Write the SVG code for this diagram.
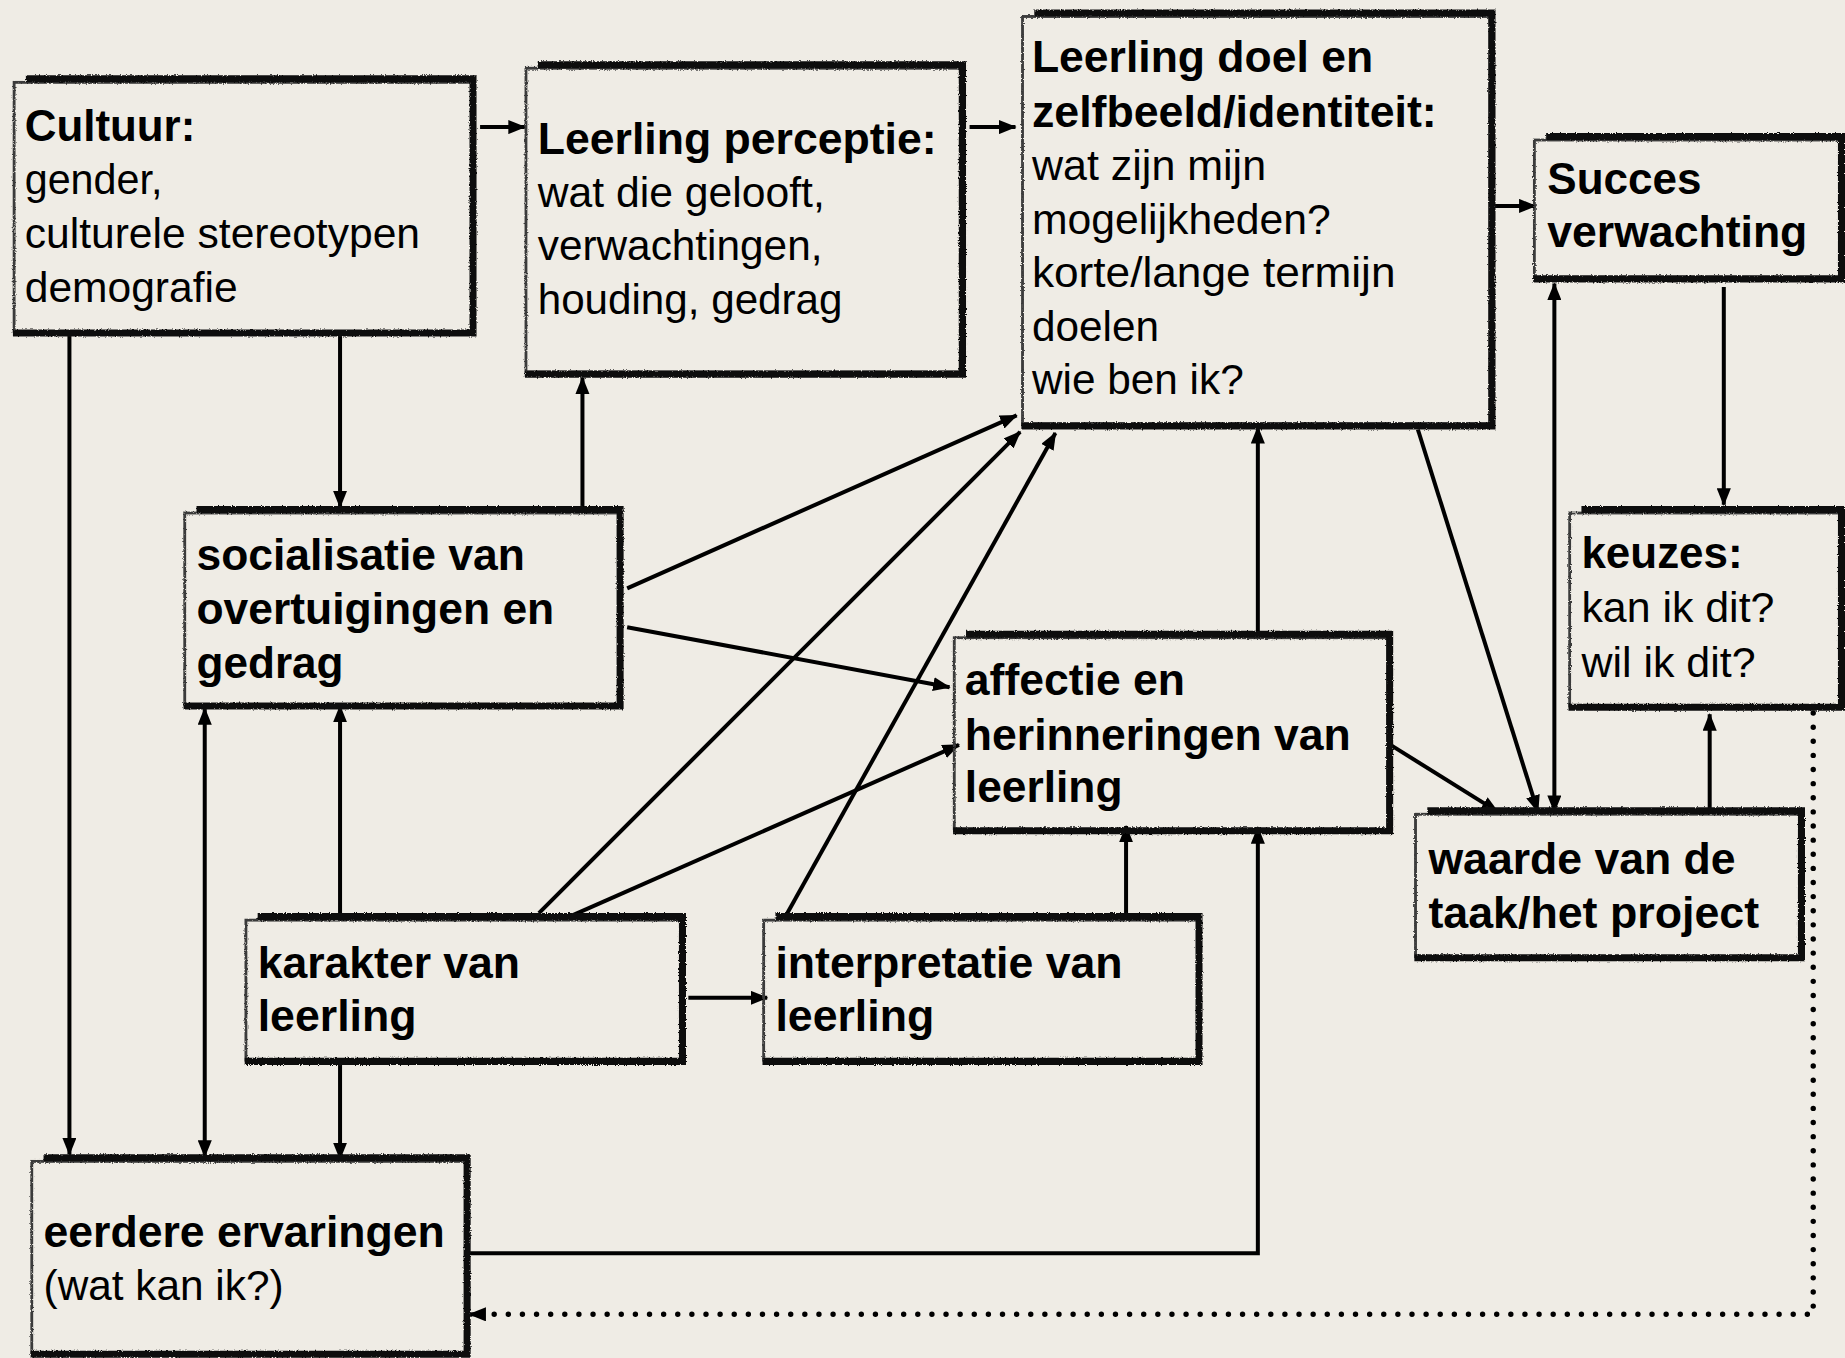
<svg xmlns="http://www.w3.org/2000/svg" width="1845" height="1358" viewBox="0 0 1845 1358">
<style>
.bg{fill:#EFECE5}
.thin{fill:none;stroke:#3a3a3a;stroke-width:2.4;filter:url(#rough)}
.thick{fill:none;stroke:#111;stroke-width:6;stroke-linejoin:miter;filter:url(#rough)}
.b{font-family:"Liberation Sans",Arial,sans-serif;font-weight:bold;font-size:37px;fill:#000}
.r{font-family:"Liberation Sans",Arial,sans-serif;font-size:36px;fill:#000}
.conn line,.conn path{fill:none;stroke:#000;stroke-width:3.4}
.conn path.dot{fill:none;stroke:#000;stroke-width:4.6;stroke-linecap:round;stroke-dasharray:0 12}
</style>
<defs>
<filter id="rough" x="-5%" y="-5%" width="110%" height="110%">
<feTurbulence type="fractalNoise" baseFrequency="0.9" numOctaves="2" seed="3" result="n"/>
<feDisplacementMap in="SourceGraphic" in2="n" scale="2.5" xChannelSelector="R" yChannelSelector="G"/>
</filter>
<marker id="ah" markerUnits="userSpaceOnUse" markerWidth="15" markerHeight="12" refX="14" refY="6" orient="auto-start-reverse" viewBox="0 0 15 12">
<path d="M0,0 L15,6 L0,12 z" fill="#000"/>
</marker>
</defs>
<rect class="bg" x="0" y="0" width="1845" height="1358"/>
<g transform="scale(1.17666)">

<g id="connectors" class="conn">
<line x1="408" y1="108" x2="446" y2="108" marker-end="url(#ah)"/>
<line x1="824" y1="108" x2="863" y2="108" marker-end="url(#ah)"/>
<line x1="1270" y1="175" x2="1305" y2="175" marker-end="url(#ah)"/>
<line x1="1465" y1="244" x2="1465" y2="429" marker-end="url(#ah)"/>
<line x1="1321" y1="241" x2="1321" y2="690" marker-start="url(#ah)" marker-end="url(#ah)"/>
<line x1="1453" y1="688" x2="1453" y2="607" marker-end="url(#ah)"/>
<line x1="1205" y1="365" x2="1307" y2="690" marker-end="url(#ah)"/>
<line x1="1180" y1="632" x2="1273" y2="690" marker-end="url(#ah)"/>
<line x1="289" y1="285" x2="289" y2="431" marker-end="url(#ah)"/>
<line x1="59" y1="285" x2="59" y2="981" marker-end="url(#ah)"/>
<line x1="495" y1="433" x2="495" y2="321" marker-end="url(#ah)"/>
<line x1="533" y1="500" x2="864" y2="353" marker-end="url(#ah)"/>
<line x1="533" y1="533" x2="807" y2="584" marker-end="url(#ah)"/>
<line x1="289" y1="778" x2="289" y2="600" marker-end="url(#ah)"/>
<line x1="458" y1="776" x2="867" y2="367" marker-end="url(#ah)"/>
<line x1="484" y1="779" x2="815" y2="633" marker-end="url(#ah)"/>
<line x1="585" y1="848" x2="652" y2="848" marker-end="url(#ah)"/>
<line x1="289" y1="905" x2="289" y2="985" marker-end="url(#ah)"/>
<line x1="174" y1="602" x2="174" y2="983" marker-start="url(#ah)" marker-end="url(#ah)"/>
<line x1="668" y1="778" x2="897" y2="368" marker-end="url(#ah)"/>
<line x1="957" y1="778" x2="957" y2="702" marker-end="url(#ah)"/>
<path d="M399,1065 H1069 V703" marker-end="url(#ah)"/>
<line x1="1069" y1="543" x2="1069" y2="363" marker-end="url(#ah)"/>
<path class="dot" d="M1541,606 V1117 H414"/>
<line x1="412" y1="1117" x2="399" y2="1117" marker-end="url(#ah)"/>
</g>

<g id="cultuur">
<rect class="thin" x="12" y="70" width="389" height="212"/>
<path class="thick" d="M22,67 H402 V283 H11"/>
<text class="b" x="21" y="120" textLength="145" lengthAdjust="spacingAndGlyphs">Cultuur:</text>
<text class="r" x="21" y="165" textLength="117" lengthAdjust="spacingAndGlyphs">gender,</text>
<text class="r" x="21" y="211" textLength="336" lengthAdjust="spacingAndGlyphs">culturele stereotypen</text>
<text class="r" x="21" y="257" textLength="181" lengthAdjust="spacingAndGlyphs">demografie</text>
</g>

<g id="perceptie">
<rect class="thin" x="447" y="58" width="369" height="258"/>
<path class="thick" d="M457,55 H818 V318 H446"/>
<text class="b" x="457" y="131" textLength="339" lengthAdjust="spacingAndGlyphs">Leerling perceptie:</text>
<text class="r" x="457" y="176" textLength="244" lengthAdjust="spacingAndGlyphs">wat die gelooft,</text>
<text class="r" x="457" y="221" textLength="242" lengthAdjust="spacingAndGlyphs">verwachtingen,</text>
<text class="r" x="457" y="267" textLength="259" lengthAdjust="spacingAndGlyphs">houding, gedrag</text>
</g>

<g id="doel">
<rect class="thin" x="869" y="14" width="397" height="346"/>
<path class="thick" d="M879,11 H1268 V362 H868"/>
<text class="b" x="877" y="61" textLength="290" lengthAdjust="spacingAndGlyphs">Leerling doel en</text>
<text class="b" x="877" y="108" textLength="344" lengthAdjust="spacingAndGlyphs">zelfbeeld/identiteit:</text>
<text class="r" x="877" y="153" textLength="199" lengthAdjust="spacingAndGlyphs">wat zijn mijn</text>
<text class="r" x="877" y="199" textLength="254" lengthAdjust="spacingAndGlyphs">mogelijkheden?</text>
<text class="r" x="877" y="244" textLength="309" lengthAdjust="spacingAndGlyphs">korte/lange termijn</text>
<text class="r" x="877" y="290" textLength="108" lengthAdjust="spacingAndGlyphs">doelen</text>
<text class="r" x="877" y="335" textLength="180" lengthAdjust="spacingAndGlyphs">wie ben ik?</text>
</g>

<g id="succes">
<rect class="thin" x="1304" y="119" width="260" height="117"/>
<path class="thick" d="M1314,116 H1565 V237 H1303"/>
<text class="b" x="1315" y="165" textLength="131" lengthAdjust="spacingAndGlyphs">Succes</text>
<text class="b" x="1315" y="210" textLength="221" lengthAdjust="spacingAndGlyphs">verwachting</text>
</g>

<g id="keuzes">
<rect class="thin" x="1334" y="436" width="230" height="164"/>
<path class="thick" d="M1344,433 H1565 V601 H1333"/>
<text class="b" x="1344" y="483" textLength="137" lengthAdjust="spacingAndGlyphs">keuzes:</text>
<text class="r" x="1344" y="529" textLength="164" lengthAdjust="spacingAndGlyphs">kan ik dit?</text>
<text class="r" x="1344" y="575" textLength="148" lengthAdjust="spacingAndGlyphs">wil ik dit?</text>
</g>

<g id="waarde">
<rect class="thin" x="1203" y="692" width="327" height="121"/>
<path class="thick" d="M1213,689 H1531 V814 H1202"/>
<text class="b" x="1214" y="743" textLength="261" lengthAdjust="spacingAndGlyphs">waarde van de</text>
<text class="b" x="1214" y="789" textLength="281" lengthAdjust="spacingAndGlyphs">taak/het project</text>
</g>

<g id="socialisatie">
<rect class="thin" x="157" y="436" width="369" height="163"/>
<path class="thick" d="M167,433 H527 V600 H156"/>
<text class="b" x="167" y="484" textLength="279" lengthAdjust="spacingAndGlyphs">socialisatie van</text>
<text class="b" x="167" y="530" textLength="304" lengthAdjust="spacingAndGlyphs">overtuigingen en</text>
<text class="b" x="167" y="576" textLength="125" lengthAdjust="spacingAndGlyphs">gedrag</text>
</g>

<g id="affectie">
<rect class="thin" x="811" y="542" width="369" height="163"/>
<path class="thick" d="M821,539 H1181 V706 H810"/>
<text class="b" x="820" y="591" textLength="187" lengthAdjust="spacingAndGlyphs">affectie en</text>
<text class="b" x="820" y="637" textLength="328" lengthAdjust="spacingAndGlyphs">herinneringen van</text>
<text class="b" x="820" y="682" textLength="134" lengthAdjust="spacingAndGlyphs">leerling</text>
</g>

<g id="karakter">
<rect class="thin" x="209" y="782" width="370" height="119"/>
<path class="thick" d="M219,779 H580 V902 H208"/>
<text class="b" x="219" y="831" textLength="223" lengthAdjust="spacingAndGlyphs">karakter van</text>
<text class="b" x="219" y="876" textLength="135" lengthAdjust="spacingAndGlyphs">leerling</text>
</g>

<g id="interpretatie">
<rect class="thin" x="649" y="782" width="369" height="119"/>
<path class="thick" d="M659,779 H1019 V902 H648"/>
<text class="b" x="659" y="831" textLength="295" lengthAdjust="spacingAndGlyphs">interpretatie van</text>
<text class="b" x="659" y="876" textLength="135" lengthAdjust="spacingAndGlyphs">leerling</text>
</g>

<g id="eerdere">
<rect class="thin" x="27" y="987" width="369" height="163"/>
<path class="thick" d="M37,984 H397 V1151 H26"/>
<text class="b" x="37" y="1060" textLength="341" lengthAdjust="spacingAndGlyphs">eerdere ervaringen</text>
<text class="r" x="37" y="1105" textLength="204" lengthAdjust="spacingAndGlyphs">(wat kan ik?)</text>
</g>

</g>
</svg>
